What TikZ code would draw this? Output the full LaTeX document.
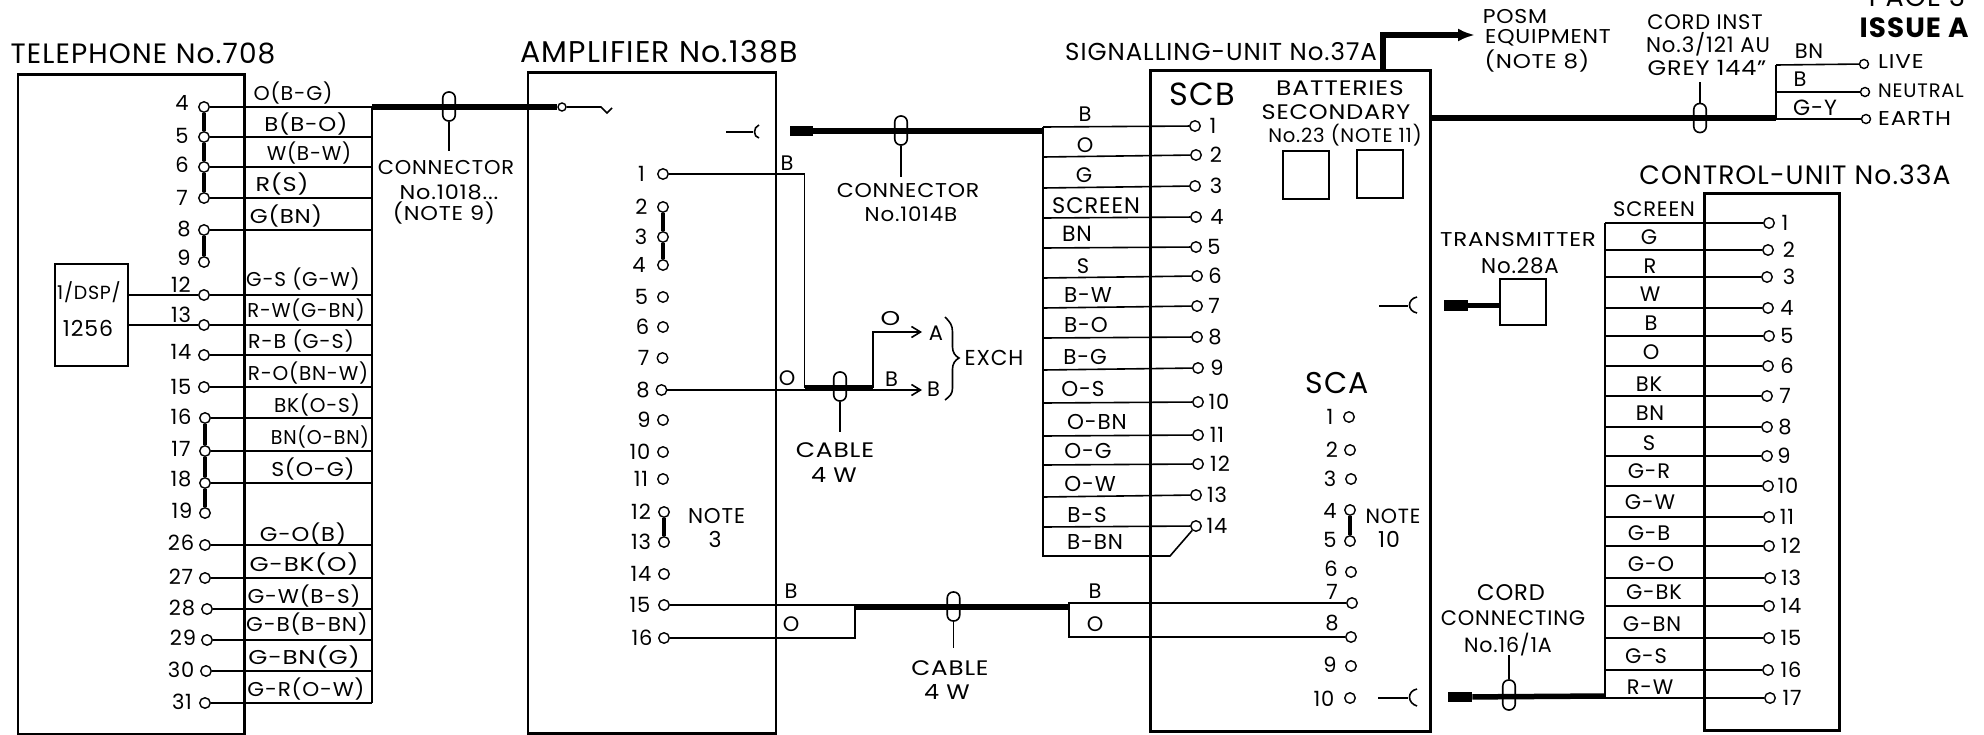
\documentclass[tikz,border=0pt]{standalone}
\usepackage{fontspec}
\setmainfont[LetterSpace=4]{Poppins}
\usetikzlibrary{arrows.meta}
\tikzset{
  wire/.style={line width=1.6pt},
  thick cable/.style={line width=5.5pt},
  jumper/.style={line width=4.5pt},
  term/.style={circle,draw,fill=white,minimum size=10.5pt,inner sep=0pt,line width=1.4pt},
  boxn/.style={draw,anchor=north west,inner sep=0pt,line width=2.6pt},
  smallbox/.style={draw,anchor=north west,inner sep=0pt,line width=1.6pt},
  loopn/.style={draw,rounded corners=6pt,minimum width=12.5pt,minimum height=29pt,inner sep=0pt,line width=1.6pt},
  blockn/.style={fill=black,inner sep=0pt,anchor=west},
  sz/.style={font=\fontsize{#1}{#1}\selectfont,inner sep=0pt},
  szw/.style 2 args={font=\fontsize{#1}{#1}\selectfont\addfontfeatures{FakeStretch=#2},inner sep=0pt},
  lab/.style={sz=21},
  numt/.style={sz=21},
}
\begin{document}
\begin{tikzpicture}[x=1pt,y=-1pt]
\useasboundingbox (0,0) rectangle (1984,734);
% ---------- boxes
\node[boxn,minimum width=226.5pt,minimum height=660pt] (tel) at (16.5,73) {};
\node[boxn,minimum width=248pt,minimum height=661pt] (amp) at (526.5,71) {};
\node[boxn,minimum width=280pt,minimum height=661pt] (sig) at (1149,69) {};
\node[boxn,minimum width=135pt,minimum height=537pt] (ctl) at (1703,192) {};
\node[smallbox,minimum width=73pt,minimum height=102pt] (dsp) at (54,263) {};
\node[smallbox,minimum width=46pt,minimum height=48pt] (bat1) at (1282,150) {};
\node[smallbox,minimum width=46pt,minimum height=48pt] (bat2) at (1356,149) {};
\node[smallbox,minimum width=46pt,minimum height=46pt] (tx) at (1499,278) {};
% ---------- titles
\node[sz=28] (ttel) at (143,54) {TELEPHONE No.708};
\node[sz=30] (tamp) at (659,52) {AMPLIFIER No.138B};
\node[sz=24.5] (tsig) at (1221,52) {SIGNALLING-UNIT No.37A};
\node[sz=26.6] (tctl) at (1795,175) {CONTROL-UNIT No.33A};
% ---------- telephone terminals
\foreach \n/\cx/\y/\nx/\ny in {4/204/107/182/103,5/204/137/182/136,6/204/167/182/165,7/204/198/182/198,8/204/230/184/229,9/204/262/184/258,12/204/295/181/285,13/204/325/181/315,14/204/355/181/352,15/204/387/181/387,16/205/418/181/417,17/205/451/181/449,18/205/483/181/479,19/205/513/182/511,26/205/545/181/543,27/205/578/181/577,28/207/609/182/608,29/207/640/183/638,30/206/671/181/670,31/205/703/182/702}{
  \node[term] (t\n) at (\cx,\y) {};
  \node[numt] (tn\n) at (\nx,\ny) {\n};
  \coordinate (tw\n) at (372,\y);
}
\foreach \n in {4,5,6,7,8,12,13,14,15,16,17,18,26,27,28,29,30,31}{
  \draw[wire] (t\n) -- (tw\n);
}
\draw[wire] (tw4) -- (tw31);
\foreach \a/\b in {4/5,5/6,6/7,8/9,16/17,17/18,18/19}{
  \draw[jumper] (t\a) -- (t\b);
}
\foreach \txt/\x/\y/\w [count=\i] in {O(B-G)/293/93/1.03,B(B-O)/306/124/1.14,W(B-W)/309/153/1,R(S)/282/184/1.2,G(BN)/286/216/1.15,G-S (G-W)/303/279/1,R-W(G-BN)/306/310/0.975,R-B (G-S)/301/341/1.03,R-O(BN-W)/308/373/1,BK(O-S)/317/405/1,BN(O-BN)/320/437/0.95,S(O-G)/313/469/1.1,G-O(B)/303/534/1.13,G-BK(O)/304/564/1.23,G-W(B-S)/304/596/1.08,G-B(B-BN)/307/624/1.08,G-BN(G)/304/657/1.23,G-R(O-W)/306/689/1.08}{
  \node[szw={20}{\w}] (tl\i) at (\x,\y) {\txt};
}
\node[sz=19] (dsptxt) at (89,292) {1/DSP/};
\node[sz=22] (dsptxtb) at (88,328) {1256};
\coordinate (dspa) at (127,295);
\coordinate (dspb) at (127,325);
\draw[wire] (dspa) -- (t12);
\draw[wire] (dspb) -- (t13);
% ---------- connector 1018
\node[term,minimum size=8pt] (ampin) at (562,107) {};
\coordinate (amptail) at (601,107);
\coordinate (ampva) at (607,113);
\coordinate (ampvb) at (612,108);
\draw[thick cable] (tw4) -- (ampin);
\draw[wire] (ampin) -- (amptail) -- (ampva) -- (ampvb);
\node[loopn] (la) at (449,106.5) {};
\coordinate (las) at (449,151);
\draw[wire] (la) -- (las);
\node[szw={20}{1.05}] (c1a) at (446,168) {CONNECTOR};
\node[szw={20}{1.12}] (c1b) at (449,192) {No.1018...};
\node[szw={20}{1.12}] (c1c) at (444,213) {(NOTE 9)};
% ---------- amplifier terminals
\foreach \n/\cx/\y/\nx in {1/663/174/641.5,2/663/207/641.5,3/663/237/641,4/663/265/639,5/663/297/641.5,6/663/327/642.6,7/662.5/358/643.6,8/661.5/390/643,9/663/420/644,10/663/452/640,11/663/479/641,12/664/512/641,13/664/542/641,14/664/574/641,15/664/605/640,16/664/638/642}{
  \node[term] (a\n) at (\cx,\y) {};
  \node[numt] (an\n) at (\nx,\y) {\n};
}
\foreach \a/\b in {2/3,3/4,12/13}{
  \draw[jumper] (a\a) -- (a\b);
}
\node[sz=21.4] (an3a) at (716.6,516) {NOTE};
\node[sz=22] (an3b) at (715,539) {3};
% amp jack
\coordinate (ja) at (726,132);
\coordinate (jb) at (753,132);
\draw[wire] (ja) -- (jb);
\draw[wire] (759,125) .. controls (753,127) and (753,137) .. (759,138);
% connector 1014B
\node[blockn,minimum width=23pt,minimum height=10pt] (cb1) at (790,131) {};
\coordinate (sa1t) at (1043,131);
\draw[thick cable] (cb1) -- (sa1t);
\node[loopn] (lb) at (901,130.5) {};
\coordinate (lbs) at (901,177);
\draw[wire] (lb) -- (lbs);
\node[szw={20}{1.1}] (c2a) at (908,191) {CONNECTOR};
\node[szw={20}{1.07}] (c2b) at (911,214) {No.1014B};
% exchange wiring
\coordinate (ex1) at (804.5,174);
\coordinate (ex2) at (804.5,387.5);
\coordinate (ex3) at (873,387.5);
\coordinate (ex4) at (873,332);
\coordinate (ex5) at (922,332);
\coordinate (ex6) at (922,390);
\draw[wire] (a1) -- (ex1) -- (ex2);
\draw[thick cable] (ex2) -- (ex3);
\draw[wire,-{Straight Barb[length=9pt,width=11pt]}] (ex3) -- (ex4) -- (ex5);
\draw[wire,-{Straight Barb[length=9pt,width=11pt]}] (a8) -- (ex6);
\node[lab] (xb1) at (787,163) {B};
\node[lab] (xo1) at (787,378) {O};
\node[szw={20}{1.25}] (xo2) at (890.5,319) {O};
\node[lab] (xb2) at (891.5,379) {B};
\node[lab] (xa) at (936,333) {A};
\node[lab] (xb3) at (933.5,389) {B};
\node[sz=21.6] (xex) at (994,358) {EXCH};
\draw[wire] (945,317) .. controls (950,322) and (952.5,325) .. (952.5,332) -- (952.5,347) .. controls (952.5,352) and (955,356) .. (959,358) .. controls (955,360) and (952.5,364) .. (952.5,369) -- (952.5,388) .. controls (952.5,394) and (950,396) .. (945,400);
\node[loopn] (lc) at (840,386.5) {};
\coordinate (lcs) at (840,432);
\draw[wire] (lc) -- (lcs);
\node[szw={21}{1.19}] (c3a) at (835,450) {CABLE};
\node[szw={21}{1.14}] (c3b) at (834,475) {4 W};
% ---------- signalling unit SCB terminals
\foreach \n/\cx/\y/\cy/\nx in {1/1195/127/126/1213,2/1196/157/155/1216,3/1195/188/186/1216,4/1196/218/217/1217,5/1196/248/247/1214,6/1197/278/276/1215,7/1197/308/306/1214,8/1197/338/337/1215,9/1198/370/368/1217,10/1198/403/402/1219,11/1198/436/435/1217,12/1198/465/464/1220,13/1196/497/495/1217,14/1196/527/526/1217}{
  \node[term] (s\n) at (\cx,\cy) {};
  \node[numt] (sn\n) at (\nx,\cy) {\n};
  \coordinate (sw\n) at (1043,\y);
  \draw[wire] (s\n) -- (sw\n);
}
\coordinate (swb) at (1043,556);
\coordinate (swc) at (1170,556);
\draw[wire] (sw1) -- (swb) -- (swc) -- (s14);
\foreach \txt/\x/\y/\s [count=\i] in {B/1085/114/21,O/1085/145/21,G/1084/175/21,SCREEN/1096/206/22.5,BN/1077/234/22,S/1083/266/21,B-W/1088/295/21.5,B-O/1086/325/21.5,B-G/1085/357/21.5,O-S/1083/389/21.5,O-BN/1097/422/21.5,O-G/1088/451/21.5,O-W/1090/484/21.5,B-S/1087/515/21.5,B-BN/1095/542/21.5}{
  \node[sz=\s] (sl\i) at (\x,\y) {\txt};
}
\node[sz=32] (scb) at (1202,94) {SCB};
\node[sz=30] (sca) at (1337,383) {SCA};
\node[szw={21}{1.19}] (b1) at (1340,88) {BATTERIES};
\node[szw={21}{1.14}] (b2) at (1336,112) {SECONDARY};
\node[sz=19.6] (b3) at (1345,135) {No.23 (NOTE 11)};
% SCA terminals
\foreach \n/\cx/\cy/\nx/\ny in {1/1349/417/1330/417,2/1350/450/1332/450,3/1351/479/1330/479,4/1350/510/1330/511,5/1350/541/1330/540,6/1351/572/1331/569,7/1352/603/1332/592,8/1351/637/1332/623,9/1351/666/1330/665,10/1350/698/1324/699}{
  \node[term] (c\n) at (\cx,\cy) {};
  \node[numt] (cn\n) at (\nx,\ny) {\n};
}
\draw[jumper] (c4) -- (c5);
\node[sz=20.6] (sn10a) at (1393,516) {NOTE};
\node[sz=22] (sn10b) at (1389,539) {10};
% jacks
\coordinate (jsa) at (1379,306);
\coordinate (jsb) at (1408,306);
\draw[wire] (jsa) -- (jsb);
\draw[wire] (1417,297) .. controls (1407,299) and (1407,311) .. (1417,313);
\coordinate (jta) at (1378,698);
\coordinate (jtb) at (1408,698);
\draw[wire] (jta) -- (jtb);
\draw[wire] (1417,689) .. controls (1407,691) and (1407,703) .. (1417,706);
% cable between amplifier and signalling unit
\coordinate (ka) at (855,605);
\coordinate (kb) at (855,638);
\coordinate (kc) at (1069,603);
\coordinate (kd) at (1069,637);
\coordinate (kta) at (855,607);
\coordinate (ktb) at (1069,607);
\draw[wire] (a15) -- (ka) -- (kb) -- (a16);
\draw[wire] (c7) -- (kc) -- (kd) -- (c8);
\draw[thick cable] (kta) -- (ktb);
\node[loopn] (ld) at (953.5,606.5) {};
\coordinate (lds) at (953.5,648);
\draw[wire] (ld) -- (lds);
\node[szw={21}{1.17}] (c4a) at (950,668) {CABLE};
\node[szw={21}{1.14}] (c4b) at (947,692) {4 W};
\node[lab] (kb1) at (791,591) {B};
\node[lab] (ko1) at (791,624) {O};
\node[lab] (kb2) at (1095,591) {B};
\node[lab] (ko2) at (1095,624) {O};
% POSM arrow
\coordinate (pa) at (1383,69);
\coordinate (pb) at (1383,35);
\coordinate (pc) at (1475,35);
\draw[thick cable,-{Latex[length=17pt,width=13pt]}] (pa) -- (pb) -- (pc);
\node[szw={20}{1.1}] (p1) at (1515,17) {POSM};
\node[szw={20}{1.1}] (p2) at (1548,38) {EQUIPMENT};
\node[szw={20}{1.15}] (p3) at (1537,61) {(NOTE 8)};
% mains cord
\coordinate (ma) at (1429,118);
\coordinate (mb) at (1776,118);
\coordinate (mc) at (1776,65);
\coordinate (md) at (1776,92);
\draw[thick cable] (ma) -- (mb);
\node[loopn] (le) at (1700,118) {};
\coordinate (les) at (1700,82);
\draw[wire] (le) -- (les);
\node[term,minimum size=9pt] (live) at (1864,64) {};
\node[term,minimum size=9pt] (neut) at (1865,92) {};
\node[term,minimum size=9pt] (eart) at (1866,119) {};
\coordinate (me) at (1776,119);
\draw[wire] (mc) -- (me);
\draw[wire] (mc) -- (live);
\draw[wire] (md) -- (neut);
\draw[wire] (me) -- (eart);
\node[lab] (mbn) at (1809,51) {BN};
\node[lab] (mbb) at (1800,79) {B};
\node[sz=22] (mgy) at (1815,108) {G-Y};
\node[szw={20}{1.15},anchor=west] (tlive) at (1878,62) {LIVE};
\node[sz=19.5,anchor=west] (tneut) at (1878,91) {NEUTRAL};
\node[szw={20}{1.15},anchor=west] (teart) at (1878,119) {EARTH};
\node[sz=21] (co1) at (1705,22) {CORD INST};
\node[sz=21.3] (co2) at (1708,44) {No.3/121 AU};
\node[szw={21}{1.14}] (co3) at (1707,68) {GREY 144''};
\node[sz=27] (pg) at (1917,-3) {PAGE 3};
\node[sz=27.8,font=\fontsize{27.8}{27.8}\selectfont\bfseries] (iss) at (1914,28) {ISSUE A};
% transmitter
\node[blockn,minimum width=24pt,minimum height=11pt] (txb) at (1444,305.5) {};
\coordinate (txe) at (1499,305.5);
\draw[thick cable] (txb) -- (txe);
\node[szw={20}{1.15}] (tx1) at (1518,240) {TRANSMITTER};
\node[sz=21.4] (tx2) at (1520,266) {No.28A};
% cord connecting
\node[blockn,minimum width=24pt,minimum height=10pt] (ccb) at (1448,697) {};
\coordinate (cce) at (1605,696);
\draw[thick cable] (ccb) -- (cce);
\node[loopn,minimum height=30pt] (lf) at (1509,695) {};
\coordinate (lfs) at (1509,655);
\draw[wire] (lf) -- (lfs);
\node[sz=22.6] (cc1) at (1511,593) {CORD};
\node[sz=21] (cc2) at (1513,618) {CONNECTING};
\node[sz=20.6] (cc3) at (1508,645) {No.16/1A};
% ---------- control unit
\foreach \n/\cx/\y/\nx in {1/1769/223/1785,2/1768/250/1789,3/1767/277/1789,4/1768/308/1787,5/1769/336/1787,6/1768/366/1787,7/1767/396/1785,8/1767/427/1785,9/1767/456/1784,10/1768/486/1788,11/1769/517/1787,12/1769/546/1791,13/1770/578/1791,14/1769/606/1791,15/1769/638/1791,16/1768/670/1791,17/1770/698/1792}{
  \node[term] (u\n) at (\cx,\y) {};
  \node[numt] (un\n) at (\nx,\y) {\n};
  \coordinate (uw\n) at (1605,\y);
  \draw[wire] (u\n) -- (uw\n);
}
\draw[wire] (uw1) -- (uw17);
\foreach \txt/\x/\y/\s [count=\i] in {SCREEN/1654/209/21,G/1649/237/21,R/1650/266/21,W/1650/294/21,B/1651/323/21,O/1651/352/21,BK/1649/384/21,BN/1650/413/21,S/1649/443/21,G-R/1649/471/21,G-W/1650/502/21,G-B/1649/533/21,G-O/1651/564/21,G-BK/1654/592/21,G-BN/1652/624/21,G-S/1646/656/21,R-W/1650/687/21}{
  \node[sz=\s] (ul\i) at (\x,\y) {\txt};
}
\end{tikzpicture}
\end{document}
